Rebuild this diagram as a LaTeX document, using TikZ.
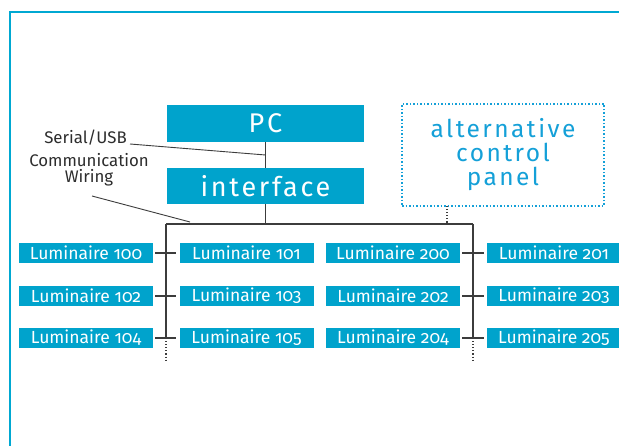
\documentclass[tikz,border=0pt]{standalone}
\usepackage{fontspec}
\setmainfont{Fira Sans}[Numbers=OldStyle]
\newfontfamily\spacedfont{Fira Sans}[LetterSpace=10]
\usetikzlibrary{calc}
\definecolor{lumblue}{RGB}{0,163,204}
\definecolor{altblue}{RGB}{20,160,216}
\definecolor{framecol}{RGB}{0,168,210}
\definecolor{wiregray}{RGB}{60,60,60}
\definecolor{labelgray}{RGB}{45,45,45}
\begin{document}
\begin{tikzpicture}[x=1pt,y=-1pt,
  lum/.style={fill=lumblue, text=white, minimum width=134pt, minimum height=20pt, inner sep=0pt, font=\fontsize{17.5}{18}\selectfont},
  big/.style={fill=lumblue, text=white, minimum width=197pt, inner sep=0pt, font=\spacedfont\fontsize{27}{30}\selectfont},
  wire/.style={draw=wiregray, line width=1.1pt},
  lbl/.style={text=labelgray, inner sep=0pt, font=\fontsize{16.8}{16}\selectfont}]
\useasboundingbox (0,0) rectangle (619,446);
\fill[white] (0,0) rectangle (619,446);
\draw[framecol, line width=1.6pt] (9.8,446) |- (619,11.8);
% top boxes
\node[big, minimum height=37pt] (pc) at (265.5,123.5) {PC};
\node[big, minimum height=36pt] (iface) at (265.5,186) {interface};
\node[draw=altblue, dotted, line width=1.5pt, minimum width=202pt, minimum height=102pt,
      text=altblue, align=center, inner sep=0pt,
      font=\spacedfont\fontsize{24.5}{24}\selectfont] (alt) at (503,155) {alternative\\control\\panel};
% bus coordinates
\coordinate (bl) at (166,224);
\coordinate (br) at (473,224);
\coordinate (altstem) at (447,206);
% luminaires
\foreach \n/\x/\y in {100/86/253,102/86/296,104/86/338,
                      101/246.5/253,103/246.5/296,105/246.5/338,
                      200/393/253,202/393/296,204/393/338,
                      201/554/253,203/554/296,205/554/338}{
  \node[lum] (l\n) at (\x,\y) {Luminaire \n};
}
% wiring
\draw[wire] (pc.south) -- (iface.north);
\draw[wire] (iface.south) -- (iface.south |- bl);
\draw[wire] (bl) -- (br);
\draw[wire, dotted] (altstem) -- (altstem |- br);
\draw[wire] (bl) -- (bl |- l104);
\draw[wire, dotted] (bl |- l104) -- ++(0,22);
\draw[wire] (br) -- (br |- l205);
\draw[wire, dotted] (br |- l205) -- ++(0,22);
\foreach \a/\b in {100/101,102/103,104/105,200/201,202/203,204/205}{
  \draw[wire] ($(l\a.east)+(2,0)$) -- ($(l\b.west)+(-3,0)$);
}
% labels
\node[lbl, anchor=base east] (ser) at (127,144) {Serial/USB};
\draw[wire, line width=0.9pt] ($(ser.base east)+(3,0)$) -- ($(pc.south)!0.5!(iface.north)$);
\node[lbl, align=center, anchor=north] (comm) at (89,153) {Communication\\Wiring};
\draw[wire, line width=0.9pt] (92,196) -- ($(bl)+(24,-2)$);
\end{tikzpicture}
\end{document}
